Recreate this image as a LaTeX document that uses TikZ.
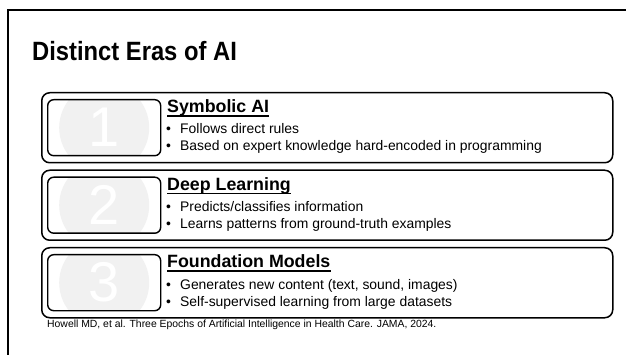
\documentclass[tikz,border=0pt]{standalone}
\usepackage{fontspec}
\setmainfont{Liberation Sans}
\definecolor{circlegray}{HTML}{F1F1F1}
\begin{document}
\begin{tikzpicture}[x=1pt,y=-1pt,
  outerbox/.style={draw=black, line width=1.5pt, rounded corners=8pt, minimum width=571pt, minimum height=70pt, anchor=north west, inner sep=0pt},
  innerbox/.style={draw=black, line width=1.4pt, rounded corners=6pt, minimum width=113pt, minimum height=56pt, anchor=north west, inner sep=0pt,
    path picture={\fill[circlegray] (path picture bounding box.center) circle (45pt);},
    text=white, font=\fontsize{56}{56}\selectfont},
  head/.style={anchor=base west, inner sep=0pt, font=\fontsize{17.8}{20}\selectfont\bfseries},
  ul/.style={line width=1.3pt},
  bul/.style={anchor=base west, inner sep=0pt, font=\fontsize{13.9}{17}\selectfont},
  frameline/.style={line width=2.5pt, draw=black}
]
\fill[white] (0,0) rectangle (626,355);
\useasboundingbox (0,0) rectangle (626,355);
\draw[frameline] (8,355) -- (8,10) -- (626,10);

\node[anchor=base west, inner sep=0pt, font=\fontsize{24.5}{28}\selectfont\bfseries] (title) at (32,61) {\scalebox{0.97}[1.08]{Distinct Eras of AI}};

% Era 1
\node[outerbox] (era1) at (41,92) {};
\node[innerbox] (num1) at (47,99) {1};
\node[head] (h1) at (167,113) {Symbolic AI};
\draw[ul] ([yshift=-3pt]h1.base west) -- ([yshift=-3pt]h1.base east);
\node[bul] (b11) at (166,134) {\makebox[14pt][l]{\textbullet}Follows direct rules};
\node[bul] (b12) at (166,151) {\makebox[14pt][l]{\textbullet}Based on expert knowledge hard-encoded in programming};

% Era 2
\node[outerbox] (era2) at (41,169.5) {};
\node[innerbox] (num2) at (47,176.5) {2};
\node[head] (h2) at (167,190.5) {Deep Learning};
\draw[ul] ([yshift=-3pt]h2.base west) -- ([yshift=-3pt]h2.base east);
\node[bul] (b21) at (166,211.5) {\makebox[14pt][l]{\textbullet}Predicts/classifies information};
\node[bul] (b22) at (166,228.5) {\makebox[14pt][l]{\textbullet}Learns patterns from ground-truth examples};

% Era 3
\node[outerbox] (era3) at (41,247) {};
\node[innerbox] (num3) at (47,254) {3};
\node[head] (h3) at (167,268) {Foundation Models};
\draw[ul] ([yshift=-3pt]h3.base west) -- ([yshift=-3pt]h3.base east);
\node[bul] (b31) at (166,289) {\makebox[14pt][l]{\textbullet}Generates new content (text, sound, images)};
\node[bul] (b32) at (166,306) {\makebox[14pt][l]{\textbullet}Self-supervised learning from large datasets};

\node[anchor=base west, inner sep=0pt, font=\fontsize{10.4}{12}\selectfont] (cite) at (47,327) {Howell MD, et al. Three Epochs of Artificial Intelligence in Health Care. JAMA, 2024.};
\end{tikzpicture}
\end{document}
